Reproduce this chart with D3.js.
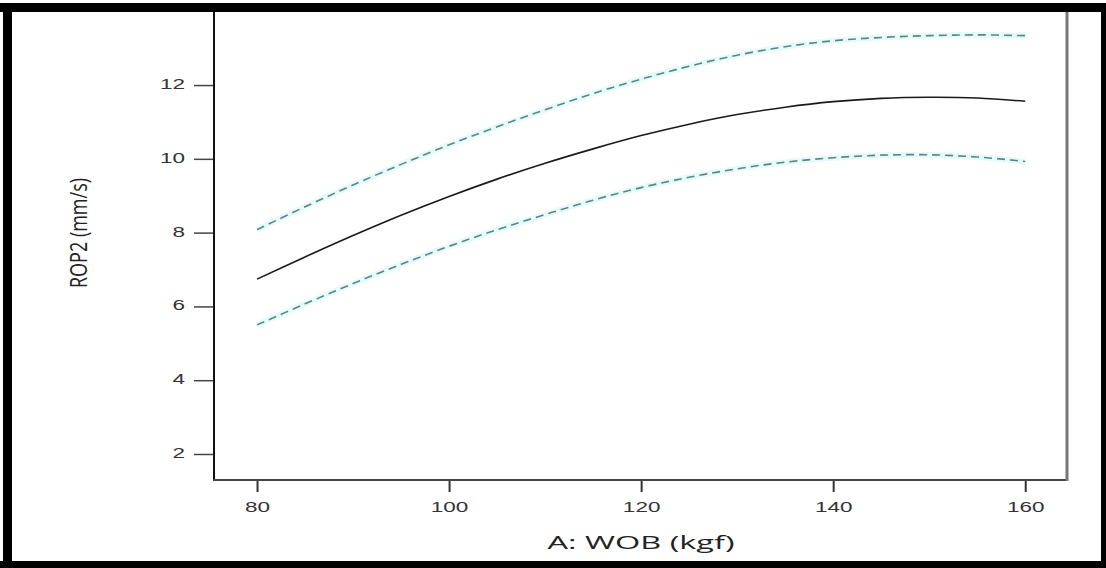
<!DOCTYPE html>
<html>
<head>
<meta charset="utf-8">
<script src="https://cdn.jsdelivr.net/npm/d3@7"></script>
<style>
  html, body { margin: 0; padding: 0; background: #fff; }
  svg { display: block; }
</style>
</head>
<body>
<svg id="chart" width="1106" height="568"></svg>
<script>
// WOB settings (kgf) at which the response curve is evaluated
const wob = [80, 85, 90, 95, 100, 105, 110, 115, 120, 125, 130, 135, 140, 145, 150, 155, 160];
// Predicted ROP2 (mm/s)
const ropPredicted = [6.74, 7.34, 7.92, 8.47, 8.98, 9.45, 9.88, 10.27, 10.63, 10.94, 11.20, 11.40, 11.55, 11.64, 11.67, 11.65, 11.56];
// Upper 95% confidence band
const ropUpper = [8.08, 8.70, 9.29, 9.85, 10.38, 10.87, 11.33, 11.77, 12.16, 12.51, 12.81, 13.04, 13.20, 13.29, 13.34, 13.36, 13.34];
// Lower 95% confidence band
const ropLower = [5.50, 6.07, 6.62, 7.14, 7.63, 8.08, 8.49, 8.88, 9.22, 9.50, 9.73, 9.91, 10.03, 10.10, 10.11, 10.05, 9.93];
// Axis ticks and titles
const xTicks = [80, 100, 120, 140, 160];
const yTicks = [2, 4, 6, 8, 10, 12];
const xTitle = "A: WOB (kgf)";
const yTitle = "ROP2 (mm/s)";

const svg = d3.select("#chart");
const W = 1106, H = 568;
const plot = { left: 214, right: 1067, top: 12, bottom: 480 };
const stretch = 1.5; // horizontal stretch of the exported figure text

const x = d3.scaleLinear().domain([75.52, 164.35]).range([plot.left, plot.right]);
const y = d3.scaleLinear().domain([1.295, 13.98]).range([plot.bottom, plot.top]);

// outer black frame
svg.append("rect").attr("x", 0).attr("y", 0).attr("width", W).attr("height", H).attr("fill", "#fff");
svg.append("rect").attr("x", 0).attr("y", 3).attr("width", W).attr("height", 9).attr("fill", "#000");
svg.append("rect").attr("x", 3).attr("y", 3).attr("width", 9).attr("height", H).attr("fill", "#000");
svg.append("rect").attr("x", 0).attr("y", 561).attr("width", W).attr("height", 7).attr("fill", "#000");
svg.append("rect").attr("x", 1101).attr("y", 3).attr("width", 5).attr("height", H).attr("fill", "#000");

// curves
const pts = vals => wob.map((w, i) => [w, vals[i]]);
const line = d3.line().x(d => x(d[0])).y(d => y(d[1])).curve(d3.curveCatmullRom);
const curves = svg.append("g");

[ropUpper, ropLower].forEach(v => {
  curves.append("path").attr("d", line(pts(v)))
    .attr("fill", "none").attr("stroke", "#e6fafa").attr("stroke-width", 6);
});
[ropUpper, ropLower].forEach(v => {
  curves.append("path").attr("d", line(pts(v)))
    .attr("fill", "none").attr("stroke", "#568888").attr("stroke-width", 1.6)
    .attr("stroke-dasharray", "8,5");
});
curves.append("path").attr("d", line(pts(ropPredicted)))
  .attr("fill", "none").attr("stroke", "#1a1a1a").attr("stroke-width", 1.6);

// x axis
const xAxis = svg.append("g").attr("transform", `translate(0,${plot.bottom})`)
  .call(d3.axisBottom(x).tickValues(xTicks).tickSize(12).tickSizeOuter(0).tickFormat(d3.format("d")));
xAxis.select(".domain").remove();
xAxis.selectAll(".tick line").attr("stroke", "#333").attr("stroke-width", 2);
xAxis.selectAll(".tick text")
  .attr("y", 32.5).attr("dy", 0)
  .attr("transform", `scale(${stretch},1)`)
  .attr("font-family", "Liberation Sans, Arial, sans-serif")
  .attr("font-size", 15).attr("fill", "#333");

// y axis
const yAxis = svg.append("g").attr("transform", `translate(${plot.left},0)`)
  .call(d3.axisLeft(y).tickValues(yTicks).tickSize(20).tickSizeOuter(0).tickFormat(d3.format("d")));
yAxis.select(".domain").remove();
yAxis.selectAll(".tick line").attr("stroke", "#444").attr("stroke-width", 1.5);
yAxis.selectAll(".tick text")
  .attr("x", -29 / stretch).attr("dy", 0).attr("y", 3.5)
  .attr("transform", `scale(${stretch},1)`)
  .attr("text-anchor", "end")
  .attr("font-family", "Liberation Sans, Arial, sans-serif")
  .attr("font-size", 15).attr("fill", "#333");

// plot frame lines
svg.append("line").attr("x1", plot.left).attr("x2", plot.left).attr("y1", plot.top).attr("y2", plot.bottom + 1)
  .attr("stroke", "#111").attr("stroke-width", 2);
svg.append("line").attr("x1", plot.left - 1).attr("x2", plot.right + 1).attr("y1", plot.bottom).attr("y2", plot.bottom)
  .attr("stroke", "#444").attr("stroke-width", 2);
svg.append("line").attr("x1", plot.right).attr("x2", plot.right).attr("y1", plot.top).attr("y2", plot.bottom + 1)
  .attr("stroke", "#777").attr("stroke-width", 3);

// axis titles, stretched horizontally to the figure's aspect
const xt = svg.append("g").attr("transform", `translate(641,549)`);
const xtText = xt.append("text").text(xTitle)
  .attr("text-anchor", "middle")
  .attr("font-family", "Open Sans, sans-serif")
  .attr("font-size", 19).attr("fill", "#222");
const xw = xtText.node().getComputedTextLength();
xtText.attr("transform", `scale(${187 / xw},1)`);

const yt = svg.append("g").attr("transform", `translate(87,233) scale(1.3,1)`);
const ytText = yt.append("text").text(yTitle)
  .attr("text-anchor", "middle")
  .attr("font-family", "Open Sans, sans-serif")
  .attr("font-size", 17).attr("fill", "#222")
  .attr("transform", "rotate(-90)");
const yl = ytText.node().getComputedTextLength();
ytText.attr("font-size", 17 * 110 / yl);
</script>
</body>
</html>
